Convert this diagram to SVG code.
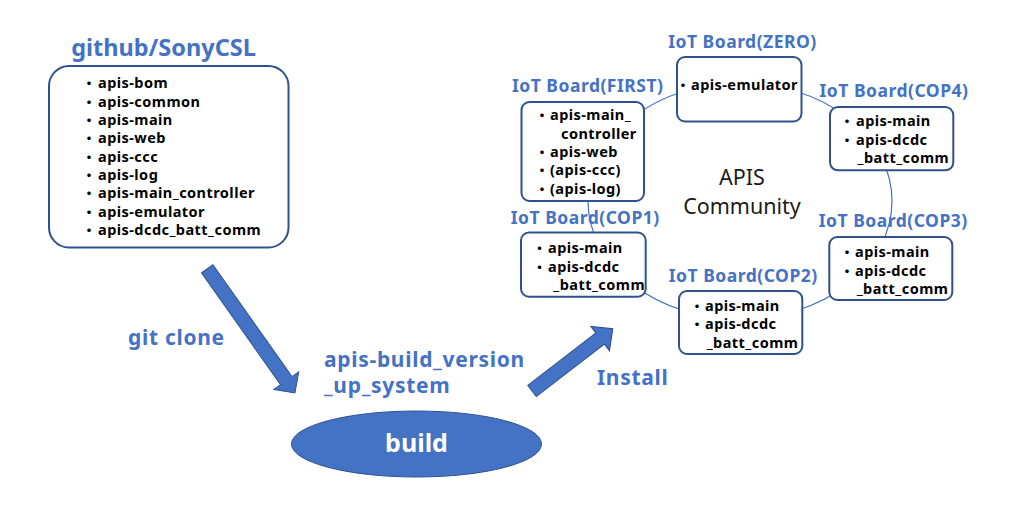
<svg xmlns="http://www.w3.org/2000/svg" width="1025" height="518" viewBox="0 0 1025 518">
<style>
.box{fill:#fff;stroke:#2F528F;stroke-width:2}
.item{font-family:"Noto Sans","Noto Sans CJK JP",sans-serif;font-weight:bold;font-size:14.5px;letter-spacing:0.45px;fill:#000}
.bul{font-family:"Noto Sans CJK JP",sans-serif;font-weight:bold;font-size:14px;fill:#000;text-anchor:middle}
.lbl{font-family:"Noto Sans","Noto Sans CJK JP",sans-serif;font-weight:bold;fill:#4472C4}
.mid{font-size:21px;letter-spacing:0.7px}
.blbl{font-size:17.5px;letter-spacing:0.5px;text-anchor:middle}
.arrow{fill:#4472C4;stroke:#2F528F;stroke-width:1}
.ring{fill:none;stroke:#4472C4;stroke-width:1.2}
.center{font-family:"Noto Sans","Noto Sans CJK JP",sans-serif;font-size:21.5px;fill:#1a1a1a;text-anchor:middle}
</style>
<rect width="1025" height="518" fill="#fff"/>

<g id="connectors">
  <ellipse class="ring" cx="740" cy="201" rx="152" ry="118"/>
  <polygon class="arrow" transform="translate(207.2,268.8) rotate(54.74)" points="0,-7 137,-7 137,-15.2 152,0 137,15.2 137,7 0,7"/>
  <polygon class="arrow" transform="translate(532,391) rotate(-37.6)" points="0,-7 86,-7 86,-15.3 102,0 86,15.3 86,7 0,7"/>
</g>

<g id="github">
  <text class="lbl" x="163.5" y="56" font-size="23.5" text-anchor="middle">github/SonyCSL</text>
  <rect class="box" x="49" y="66" width="239.5" height="181.5" rx="20"/>
  <text class="bul" x="89" y="88.3">・</text><text class="item" x="98" y="88.3">apis-bom</text>
  <text class="bul" x="89" y="106.6">・</text><text class="item" x="98" y="106.6">apis-common</text>
  <text class="bul" x="89" y="124.9">・</text><text class="item" x="98" y="124.9">apis-main</text>
  <text class="bul" x="89" y="143.3">・</text><text class="item" x="98" y="143.3">apis-web</text>
  <text class="bul" x="89" y="161.6">・</text><text class="item" x="98" y="161.6">apis-ccc</text>
  <text class="bul" x="89" y="179.9">・</text><text class="item" x="98" y="179.9">apis-log</text>
  <text class="bul" x="89" y="198.2">・</text><text class="item" x="98" y="198.2">apis-main_controller</text>
  <text class="bul" x="89" y="216.5">・</text><text class="item" x="98" y="216.5">apis-emulator</text>
  <text class="bul" x="89" y="234.8">・</text><text class="item" x="98" y="234.8">apis-dcdc_batt_comm</text>
</g>

<g id="git-clone">
  <text class="lbl mid" x="128" y="345">git clone</text>
</g>

<g id="build-system">
  <text class="lbl mid" x="324" y="367">apis-build_version</text>
  <text class="lbl mid" x="324" y="393">_up_system</text>
</g>

<g id="build">
  <ellipse cx="416.5" cy="444" rx="125" ry="33" fill="#4472C4" stroke="#2F528F" stroke-width="1"/>
  <text x="416.5" y="452" font-family="Noto Sans, Noto Sans CJK JP, sans-serif" font-weight="bold" font-size="25" fill="#fff" text-anchor="middle">build</text>
</g>

<g id="install">
  <text class="lbl mid" x="597" y="385">Install</text>
</g>

<g id="community">
  <text class="center" x="742" y="185">APIS</text>
  <text class="center" x="742" y="214">Community</text>
</g>

<g id="board-zero">
  <text class="lbl blbl" x="742.5" y="48">IoT Board(ZERO)</text>
  <rect class="box" x="677" y="57" width="124.5" height="64.5" rx="8"/>
  <text class="bul" x="683" y="90">・</text><text class="item" x="691" y="90">apis-emulator</text>
</g>

<g id="board-first">
  <text class="lbl blbl" x="587.7" y="92">IoT Board(FIRST)</text>
  <rect class="box" x="521.5" y="102" width="122.5" height="99" rx="8"/>
  <text class="bul" x="542" y="120">・</text><text class="item" x="550" y="120">apis-main_</text>
  <text class="item" x="561" y="138.5">controller</text>
  <text class="bul" x="542" y="157">・</text><text class="item" x="550" y="157">apis-web</text>
  <text class="bul" x="542" y="175.3">・</text><text class="item" x="550" y="175.3">(apis-ccc)</text>
  <text class="bul" x="542" y="193.7">・</text><text class="item" x="550" y="193.7">(apis-log)</text>
</g>

<g id="board-cop4">
  <text class="lbl blbl" x="894" y="97">IoT Board(COP4)</text>
  <rect class="box" x="830" y="107" width="123.3" height="63.3" rx="8"/>
  <text class="bul" x="847" y="126">・</text><text class="item" x="856" y="126">apis-main</text>
  <text class="bul" x="847" y="144.5">・</text><text class="item" x="856" y="144.5">apis-dcdc</text>
  <text class="item" x="857.5" y="163">_batt_comm</text>
</g>

<g id="board-cop1">
  <text class="lbl blbl" x="585.3" y="224">IoT Board(COP1)</text>
  <rect class="box" x="521" y="232.5" width="124.7" height="64.2" rx="8"/>
  <text class="bul" x="539.5" y="253">・</text><text class="item" x="548" y="253">apis-main</text>
  <text class="bul" x="539.5" y="271.5">・</text><text class="item" x="548" y="271.5">apis-dcdc</text>
  <text class="item" x="553.3" y="290">_batt_comm</text>
</g>

<g id="board-cop2">
  <text class="lbl blbl" x="743.3" y="282">IoT Board(COP2)</text>
  <rect class="box" x="679" y="291" width="123.3" height="63" rx="8"/>
  <text class="bul" x="697" y="310.5">・</text><text class="item" x="705" y="310.5">apis-main</text>
  <text class="bul" x="697" y="329">・</text><text class="item" x="705" y="329">apis-dcdc</text>
  <text class="item" x="706.7" y="347.5">_batt_comm</text>
</g>

<g id="board-cop3">
  <text class="lbl blbl" x="893.3" y="227">IoT Board(COP3)</text>
  <rect class="box" x="829.3" y="237" width="123" height="63" rx="8"/>
  <text class="bul" x="847" y="257">・</text><text class="item" x="855" y="257">apis-main</text>
  <text class="bul" x="847" y="275.5">・</text><text class="item" x="855" y="275.5">apis-dcdc</text>
  <text class="item" x="856.7" y="294">_batt_comm</text>
</g>
</svg>
